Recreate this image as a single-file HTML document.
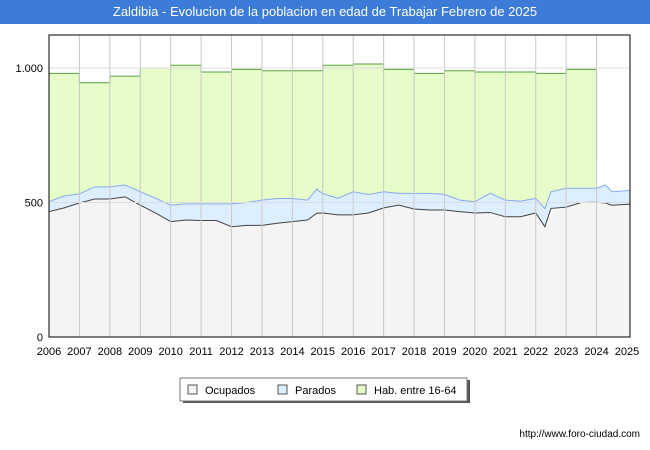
<!DOCTYPE html>
<html><head><meta charset="utf-8"><style>
body{margin:0;width:650px;height:450px;background:#fff;font-family:"Liberation Sans",sans-serif;overflow:hidden}
#title{position:absolute;left:0;top:0;width:650px;height:24px;background:#3d7bd9;color:#fff;font-size:13px;line-height:24px;text-align:center}
</style></head><body>
<div id="title">Zaldibia - Evolucion de la poblacion en edad de Trabajar Febrero de 2025</div>
<svg id="c" width="650" height="450" style="position:absolute;left:0;top:0"></svg>
<script>
const habYears=[2006,2007,2008,2009,2010,2011,2012,2013,2014,2015,2016,2017,2018,2019,2020,2021,2022,2023];
const habValues=[980,945,970,1000,1010,985,995,990,990,1010,1015,995,980,990,985,985,980,995];
const lineYears=[2006,2006.5,2007,2007.5,2008,2008.5,2009,2009.5,2010,2010.5,2011,2011.5,2012,2012.5,2013,2013.5,2014,2014.5,2014.8,2015,2015.5,2016,2016.5,2017,2017.5,2018,2018.5,2019,2019.5,2020,2020.5,2021,2021.5,2022,2022.3,2022.5,2023,2023.5,2024,2024.3,2024.5,2025.1];
const ocupados=[466,480,498,513,513,521,490,461,429,435,433,433,410,415,415,423,429,435,460,461,454,454,461,480,490,476,472,472,466,461,463,447,447,461,410,478,483,500,501,498,490,494];
const totalActive=[503,524,532,558,558,565,540,516,490,495,495,495,495,500,509,515,515,509,550,533,516,540,530,540,534,534,534,530,509,503,534,509,505,515,477,540,553,553,553,565,540,545];
const yTicks=[0,500,1000];const yTickLabels=["0","500","1.000"];
const xTicks=[2006,2007,2008,2009,2010,2011,2012,2013,2014,2015,2016,2017,2018,2019,2020,2021,2022,2023,2024,2025];
const X0=49,X1=630,Y0=337,Y1=35;
const x=v=>X0+(v-2006)*30.42;
const y=v=>Y0-v*0.269;
const svg=document.getElementById('c');const NS='http://www.w3.org/2000/svg';
function mk(t,a,p){const e=document.createElementNS(NS,t);for(const k in a)e.setAttribute(k,a[k]);(p||svg).appendChild(e);return e;}
const bg=mk('rect',{x:X0,y:Y1,width:X1-X0,height:Y0-Y1,fill:'#fff'});


// hab area
let hp=`M${x(habYears[0])},${y(0)}`;
habYears.forEach((yr,i)=>{hp+=` L${x(yr)},${y(habValues[i])} L${x(yr+1)},${y(habValues[i])}`;});
const lastY=habYears[habYears.length-1]+1;
hp+=` L${x(lastY)},${y(880)} L${x(lastY)},${y(0)} Z`;
const ha=mk('path',{d:hp,fill:'#e6fcc9'});


let hl=`M${x(habYears[0])},${y(habValues[0])}`;
habYears.forEach((yr,i)=>{hl+=` L${x(yr)},${y(habValues[i])} L${x(yr+1)},${y(habValues[i])}`;});
hl+=` L${x(lastY)},${y(880)} M${x(lastY)},${y(880)} L${x(lastY)},${y(660)}`;
const hln=mk('path',{d:hl,fill:'none',stroke:'#55a040','stroke-width':1});


function area(vals,fill,stroke,name){
 let d=`M${x(lineYears[0])},${y(0)}`;lineYears.forEach((yr,i)=>d+=` L${x(yr)},${y(vals[i])}`);
 d+=` L${x(lineYears[lineYears.length-1])},${y(0)} Z`;
 const a=mk('path',{d:d,fill:fill});
 
 
 let l='';lineYears.forEach((yr,i)=>l+=(i?' L':'M')+`${x(yr)},${y(vals[i])}`);
 const ln=mk('path',{d:l,fill:'none',stroke:stroke,'stroke-width':1});
 
 
}
area(totalActive,'#ddeeff','#88aaee','parados');
area(ocupados,'#f4f4f4','#444','ocupados');
xTicks.forEach((t,i)=>{
 if(i>0&&i<xTicks.length-1){const g=mk('line',{x1:x(t),x2:x(t),y1:Y1,y2:Y0,stroke:'#c8c8c8'});
 
 }
 const tx=mk('text',{x:x(t),y:355,'font-size':11,'text-anchor':'middle',fill:'#000'});tx.textContent=t;
 
 
});
yTicks.forEach((t,i)=>{
 if(t>0){const g=mk('line',{x1:X0,x2:X1,y1:y(t),y2:y(t),stroke:'#dddddd'});
 
 }
 const tx=mk('text',{x:43,y:y(t)+4,'font-size':11,'text-anchor':'end'});tx.textContent=yTickLabels[i];
 
 
});
const fr=mk('rect',{x:X0,y:Y1,width:X1-X0,height:Y0-Y1,fill:'none',stroke:'#000'});


// legend
const lg=mk('g',{});


mk('rect',{x:183,y:380,width:287,height:23,fill:'#555'},lg);
mk('rect',{x:180,y:378,width:287,height:23,fill:'#fff',stroke:'#777'},lg);
const items=[['Ocupados','#f4f4f4',188],['Parados','#ddeeff',278],['Hab. entre 16-64','#e6fcc9',357]];
items.forEach(it=>{
 const g=mk('g',{},lg);
 
 
 mk('rect',{x:it[2],y:385,width:9,height:9,fill:it[1],stroke:'#555'},g);
 const t=mk('text',{x:it[2]+17,y:394,'font-size':11},g);t.textContent=it[0];
});
const u=mk('text',{x:640,y:437,'font-size':10,'text-anchor':'end'});u.textContent='http://www.foro-ciudad.com';


</script>
</body></html>
